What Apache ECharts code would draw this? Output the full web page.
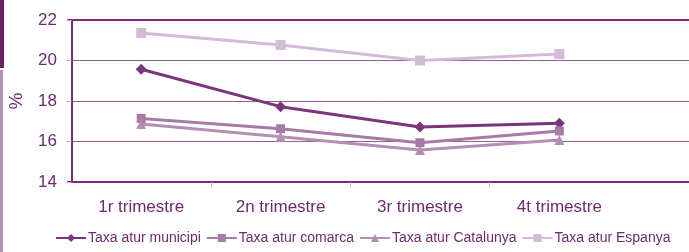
<!DOCTYPE html>
<html>
<head>
<meta charset="utf-8">
<script src="https://cdn.jsdelivr.net/npm/echarts@6/dist/echarts.min.js"></script>
<style>
  html, body { margin: 0; padding: 0; background: #fff; }
  #chart { width: 689px; height: 252px; }
</style>
</head>
<body>
<div id="chart"></div>
<script>
const categories = ['1r trimestre', '2n trimestre', '3r trimestre', '4t trimestre']
const municipi = [19.57, 17.72, 16.72, 16.9]
const comarca = [17.14, 16.63, 15.94, 16.52]
const catalunya = [16.86, 16.24, 15.58, 16.07]
const espanya = [21.36, 20.77, 20.0, 20.32]
const yTicks = [14, 16, 18, 20, 22]

const axisDark = '#7a2a78'
const gridColor = '#9c5a9c'
const textColor = '#6e2a6e'
const font = 'Liberation Sans, Arial, sans-serif'

// place each quarter in the middle of its band on a numeric axis
const toPoints = (values) => values.map((v, i) => [i + 0.5, v])

const chart = echarts.init(document.getElementById('chart'), null, { renderer: 'canvas' })

const makeSeries = (name, values, color, symbol, size, width) => ({
  name,
  type: 'line',
  data: toPoints(values),
  symbol,
  symbolSize: size,
  color,
  lineStyle: { width, color },
  itemStyle: { color },
  z: 3,
})

chart.setOption({
  animation: false,
  grid: { left: 68, right: 0, top: 20, bottom: 70, containLabel: false, outerBoundsMode: 'none' },
  graphic: [
    { type: 'rect', shape: { x: 0, y: 0, width: 4, height: 68 }, style: { fill: '#6b1f66' } },
    { type: 'rect', shape: { x: 0, y: 70, width: 3, height: 182 }, style: { fill: '#b590b3' } },
  ],
  legend: {
    bottom: 2,
    left: 50,
    itemWidth: 30,
    itemHeight: 10,
    itemGap: 5,
    textStyle: { color: textColor, fontFamily: font, fontSize: 14, padding: [0, 0, 0, -3] },
    data: ['Taxa atur municipi', 'Taxa atur comarca', 'Taxa atur Catalunya', 'Taxa atur Espanya'],
  },
  xAxis: [
    {
      type: 'value',
      min: -0.025,
      max: 4.43,
      axisLine: { show: true, lineStyle: { color: axisDark, width: 2 } },
      axisTick: { show: true, customValues: [1, 2, 3], length: 5, lineStyle: { color: '#c8b0c8' } },
      axisLabel: {
        customValues: [0.5, 1.5, 2.5, 3.5],
        formatter: (v) => categories[Math.floor(v)] || '',
        color: textColor,
        fontFamily: font,
        fontSize: 17,
        margin: 17,
      },
      splitLine: { show: false },
    },
    {
      type: 'value',
      position: 'top',
      min: -0.025,
      max: 4.43,
      axisLine: { show: true, lineStyle: { color: axisDark, width: 2 } },
      axisTick: { show: false },
      axisLabel: { show: false },
      splitLine: { show: false },
    },
  ],
  yAxis: {
    type: 'value',
    min: yTicks[0],
    max: yTicks[yTicks.length - 1],
    interval: 2,
    name: '%',
    nameLocation: 'middle',
    nameRotate: 90,
    nameGap: 42,
    nameTextStyle: { color: textColor, fontFamily: font, fontSize: 19 },
    axisLine: { show: true, lineStyle: { color: axisDark, width: 2 } },
    axisTick: { show: true, length: 5, lineStyle: { color: '#c8b0c8' } },
    axisLabel: { color: textColor, fontFamily: font, fontSize: 17, margin: 11 },
    splitLine: { show: true, lineStyle: { color: gridColor, width: 1 } },
  },
  series: [
    makeSeries('Taxa atur municipi', municipi, '#7b357b', 'diamond', 11, 3),
    makeSeries('Taxa atur comarca', comarca, '#a77ba7', 'rect', 9, 3),
    makeSeries('Taxa atur Catalunya', catalunya, '#b48fb4', 'triangle', 10, 3),
    makeSeries('Taxa atur Espanya', espanya, '#d2bcd5', 'rect', 10, 3),
  ],
})
</script>
</body>
</html>
